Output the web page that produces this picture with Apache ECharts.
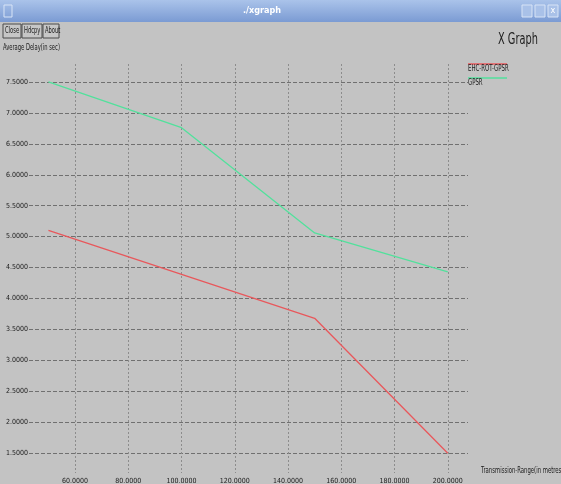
<!DOCTYPE html>
<html>
<head>
<meta charset="utf-8">
<script src="https://cdn.jsdelivr.net/npm/echarts@6/dist/echarts.min.js"></script>
<style>
  html, body { margin: 0; padding: 0; background: #c3c3c3; }
  #chart { width: 561px; height: 484px; }
</style>
</head>
<body>
<div id="chart"></div>
<script>
// data
const seriesNames = ['EHC-ROT-GPSR', 'GPSR'];
const rangeX = [50, 100, 150, 200];
const ehcDelay = [5.10, 4.39, 3.68, 1.50];
const gpsrDelay = [7.50, 6.76, 5.06, 4.43];
const xTicks = [60, 80, 100, 120, 140, 160, 180, 200];
const yTicks = [1.5, 2.0, 2.5, 3.0, 3.5, 4.0, 4.5, 5.0, 5.5, 6.0, 6.5, 7.0, 7.5];
const lineColors = ['#e8585c', '#52e19c'];

const FONT = '"Liberation Sans Narrow", "DejaVu Sans Condensed", "Liberation Sans", sans-serif';
const chart = echarts.init(document.getElementById('chart'));

function toPairs(xs, ys) {
  return xs.map((x, i) => [x, ys[i]]);
}

// squeezed text, xgraph uses a narrow bitmap font
function narrowText(str, x, y, size, sx, align) {
  return {
    type: 'text', x: x, y: y, scaleX: sx, originX: 0,
    style: { text: str, fill: '#202020', font: size + 'px ' + FONT, align: align || 'left', verticalAlign: 'middle' }
  };
}

// window chrome + legend
const graphics = [
  {
    type: 'rect', shape: { x: 0, y: 0, width: 561, height: 22 },
    style: { fill: new echarts.graphic.LinearGradient(0, 0, 0, 1, [
      { offset: 0, color: '#aac3ea' }, { offset: 1, color: '#7b9bd3' }
    ]) }
  },
  { type: 'rect', shape: { x: 4, y: 5, width: 8, height: 12 }, style: { fill: 'none', stroke: '#d8e4f6', lineWidth: 1 } },
  { type: 'text', x: 262, y: 11, style: { text: './xgraph', fill: '#ffffff', font: 'bold 9px ' + FONT, align: 'center', verticalAlign: 'middle' } },
  { type: 'rect', shape: { x: 522, y: 5, width: 10, height: 12 }, style: { fill: '#a9c1e8', stroke: '#d8e4f6' } },
  { type: 'rect', shape: { x: 535, y: 5, width: 10, height: 12 }, style: { fill: '#a9c1e8', stroke: '#d8e4f6' } },
  { type: 'rect', shape: { x: 548, y: 5, width: 10, height: 12 }, style: { fill: '#a9c1e8', stroke: '#d8e4f6' } },
  { type: 'text', x: 553, y: 11, style: { text: 'x', fill: '#ffffff', font: '9px ' + FONT, align: 'center', verticalAlign: 'middle' } }
];

const buttons = [['Close', 3, 18], ['Hdcpy', 22, 20], ['About', 43, 16]];
buttons.forEach(([label, x, w]) => {
  graphics.push({ type: 'rect', shape: { x: x, y: 24, width: w, height: 14 }, style: { fill: '#c6c6c6', stroke: '#4a4a4a', lineWidth: 1 } });
  graphics.push(narrowText(label, x + 2, 31, 8, 0.72));
});

graphics.push(
  narrowText('Average Delay(in sec)', 3, 48, 8, 0.72),
  narrowText('X Graph', 498, 40, 16, 0.68),
  narrowText('Transmission-Range(in metres', 481, 471, 8, 0.74)
);

seriesNames.forEach((name, i) => {
  const y = 64 + i * 14;
  graphics.push({ type: 'line', shape: { x1: 468, y1: y, x2: 507, y2: y }, style: { stroke: lineColors[i], lineWidth: 1.5 } });
  graphics.push(narrowText(name, 468, y + 5, 8, 0.75));
});

const option = {
  backgroundColor: '#c3c3c3',
  animation: false,
  grid: { left: 29, right: 93, top: 64, bottom: 11, outerBoundsMode: 'none', containLabel: false },
  xAxis: {
    type: 'value',
    min: 42.7,
    max: 207.6,
    axisLine: { show: false },
    axisTick: { show: false, customValues: xTicks },
    axisLabel: {
      customValues: xTicks,
      margin: 5,
      color: '#202020',
      fontSize: 7,
      fontFamily: FONT,
      formatter: v => v.toFixed(4)
    },
    splitLine: { show: true, lineStyle: { color: '#8c8c8c', type: [2, 2], width: 1 } }
  },
  yAxis: {
    type: 'value',
    min: 1.18,
    max: 7.79,
    axisLine: { show: false },
    axisTick: { show: false, customValues: yTicks },
    axisLabel: {
      customValues: yTicks,
      margin: 1,
      color: '#202020',
      fontSize: 7,
      fontFamily: FONT,
      formatter: v => v.toFixed(4)
    },
    splitLine: { show: true, lineStyle: { color: '#707070', type: [4, 2], width: 1 } }
  },
  series: [
    {
      name: seriesNames[0], type: 'line', data: toPairs(rangeX, ehcDelay),
      showSymbol: false, lineStyle: { color: lineColors[0], width: 1.3 }, itemStyle: { color: lineColors[0] }
    },
    {
      name: seriesNames[1], type: 'line', data: toPairs(rangeX, gpsrDelay),
      showSymbol: false, lineStyle: { color: lineColors[1], width: 1.3 }, itemStyle: { color: lineColors[1] }
    }
  ],
  graphic: graphics
};

chart.setOption(option);
</script>
</body>
</html>
